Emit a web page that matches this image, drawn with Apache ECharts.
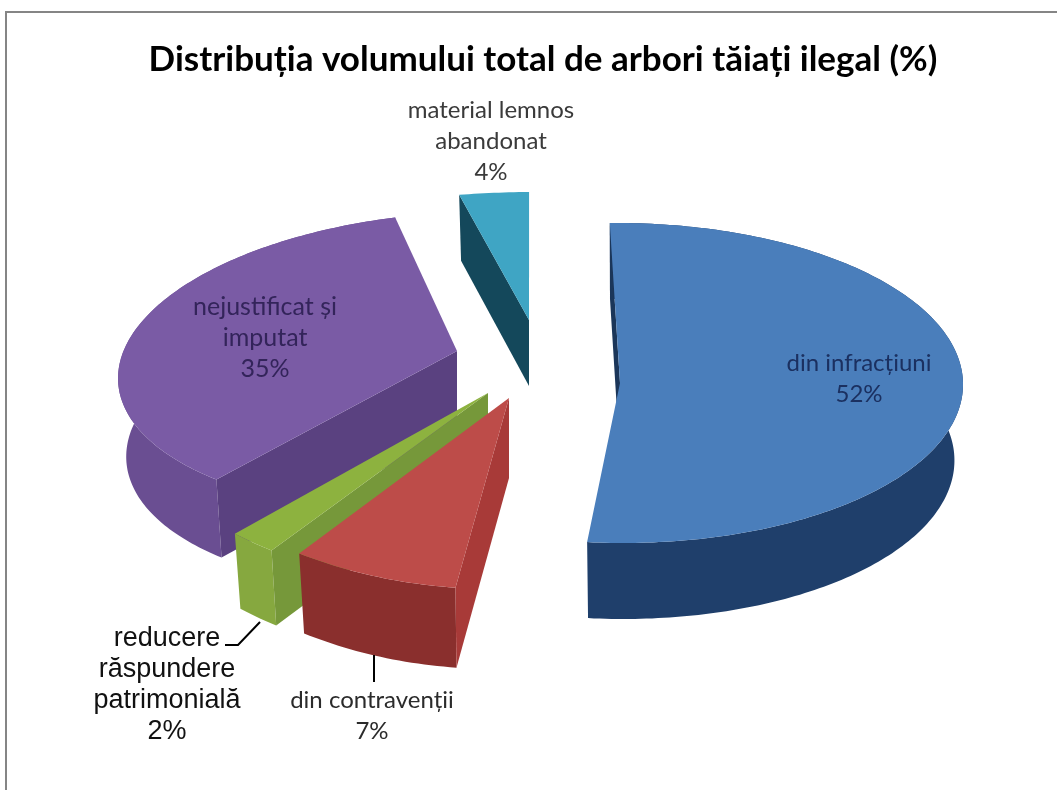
<!DOCTYPE html>
<html>
<head>
<meta charset="utf-8">
<title>Distribuția volumului total de arbori tăiați ilegal</title>
<script src="https://cdn.jsdelivr.net/npm/echarts@6/dist/echarts.min.js"></script>
<style>
    html, body { margin: 0; padding: 0; background: #fff; }
    #chart { width: 1057px; height: 790px; }
</style>
</head>
<body>
<div id="chart"></div>
<script>
const chartTitle = 'Distribuția volumului total de arbori tăiați ilegal (%)';
const categories = ['din infracțiuni', 'din contravenții', 'reducere răspundere patrimonială', 'nejustificat și imputat', 'material lemnos abandonat'];
const sliceValues = [52, 7, 2, 35, 4];
const labelLines = [
    ['din infracțiuni'],
    ['din contravenții'],
    ['reducere', 'răspundere', 'patrimonială'],
    ['nejustificat și', 'imputat'],
    ['material lemnos', 'abandonat']
];

// 3D look: every slice is an exploded, foreshortened ellipse sector
const firstSliceAngle = -1.2;
const bottomShrink = 0.975;
const sliceShapes = [
    {apex: [620, 383], rim: [620, 383], rx: 343, ry: 160, skew: -3, depth: 76, order: 1, showSide: true},
    {apex: [509, 398], rim: [495, 343], rx: 378, ry: 246, skew: 0, depth: 80, order: 4, showSide: true},
    {apex: [488, 393], rim: [456, 352], rx: 356, ry: 232, skew: 0, depth: 75, order: 3, showSide: true},
    {apex: [457, 351], rim: [449, 362], rx: 329, ry: 150, skew: 36, depth: 78, order: 2, showSide: true},
    {apex: [529, 320], rim: [535, 269], rx: 282, ry: 77, skew: 0, depth: 66, order: 1, showSide: false}
];
const sliceColors = [
    {top: '#4a7ebb', side: '#1f3f6b', cut: '#1b3659'},
    {top: '#bd4c49', side: '#8a2f2d', cut: '#a83a38'},
    {top: '#8db23f', side: '#86a83f', cut: '#76983a'},
    {top: '#7a5ba5', side: '#6a4e92', cut: '#5a4180'},
    {top: '#3fa5c4', side: '#14485b', cut: '#14485b'}
];
const labelStyles = [
    {x: 859, y: 363, color: '#1b3060', font: '24px Lato'},
    {x: 372, y: 700, color: '#2b2b2b', font: '24px Lato'},
    {x: 167, y: 639, color: '#111111', font: '27px "Liberation Sans"'},
    {x: 265, y: 307, color: '#33245a', font: '25px Lato'},
    {x: 491, y: 110, color: '#3a3a3a', font: '24px Lato'}
];
const labelLineHeight = 31;
const leaderLines = [
    [[225, 645], [238, 645], [260, 622]],
    [[374, 655], [374, 682]]
];

const toRad = deg => deg * Math.PI / 180;

function rimPoint(shape, deg, lowered) {
    const t = toRad(deg);
    const rx = lowered ? shape.rx * bottomShrink : shape.rx;
    return [
        shape.rim[0] + rx * Math.sin(t) + shape.skew * Math.cos(t),
        shape.rim[1] - shape.ry * Math.cos(t) + (lowered ? shape.depth : 0)
    ];
}

function rimArc(shape, from, to, lowered) {
    const steps = Math.max(4, Math.round(Math.abs(to - from)));
    const points = [];
    for (let i = 0; i <= steps; i++) {
        points.push(rimPoint(shape, from + (to - from) * i / steps, lowered));
    }
    return points;
}

function sliceAngles(index) {
    const total = sliceValues.reduce((sum, v) => sum + v, 0);
    const before = sliceValues.slice(0, index).reduce((sum, v) => sum + v, 0);
    const from = firstSliceAngle + before / total * 360;
    return [from, from + sliceValues[index] / total * 360];
}

function polygon(points, fill, z2) {
    return {type: 'polygon', z2: z2, shape: {points: points}, style: {fill: fill}};
}

function renderSlice(params) {
    const i = params.dataIndex;
    const shape = sliceShapes[i];
    const colors = sliceColors[i];
    const [from, to] = sliceAngles(i);
    const base = shape.order * 10;
    const apexLow = [shape.apex[0], shape.apex[1] + shape.depth];

    const outerSide = rimArc(shape, from, to, false).concat(rimArc(shape, to, from, true));
    const startFace = [rimPoint(shape, from, false), shape.apex, apexLow, rimPoint(shape, from, true)];
    const topFace = [shape.apex].concat(rimArc(shape, from, to, false));

    const textChildren = labelLines[i].concat(sliceValues[i] + '%').map((line, n) => ({
        type: 'text',
        z2: 100,
        style: {
            x: labelStyles[i].x,
            y: labelStyles[i].y + n * labelLineHeight,
            text: line,
            font: labelStyles[i].font,
            fill: labelStyles[i].color,
            align: 'center',
            verticalAlign: 'middle'
        }
    }));

    const faces = [
        polygon(startFace, colors.cut, base + 1),
        polygon(topFace, colors.top, base + 2)
    ];
    if (shape.showSide) {
        faces.unshift(polygon(outerSide, colors.side, base));
    }

    return {type: 'group', children: faces.concat(textChildren)};
}

const chart = echarts.init(document.getElementById('chart'), null, {renderer: 'canvas'});
chart.setOption({
    animation: false,
    backgroundColor: '#ffffff',
    title: {
        text: chartTitle,
        left: 538,
        top: 37,
        textAlign: 'center',
        textStyle: {fontFamily: 'Lato', fontWeight: 'bold', fontSize: 35, color: '#000000'}
    },
    graphic: [
        {
            type: 'polyline',
            shape: {points: [[6, 790], [6, 12], [1057, 12]]},
            style: {stroke: '#858585', lineWidth: 2, fill: 'none'}
        }
    ].concat(leaderLines.map(points => ({
        type: 'polyline',
        z: 10,
        shape: {points: points},
        style: {stroke: '#000000', lineWidth: 2, fill: 'none'}
    }))),
    series: [{
        type: 'custom',
        name: chartTitle,
        coordinateSystem: 'none',
        silent: true,
        renderItem: renderSlice,
        data: sliceValues.map((v, i) => ({name: categories[i], value: [v]}))
    }]
});
</script>
</body>
</html>
